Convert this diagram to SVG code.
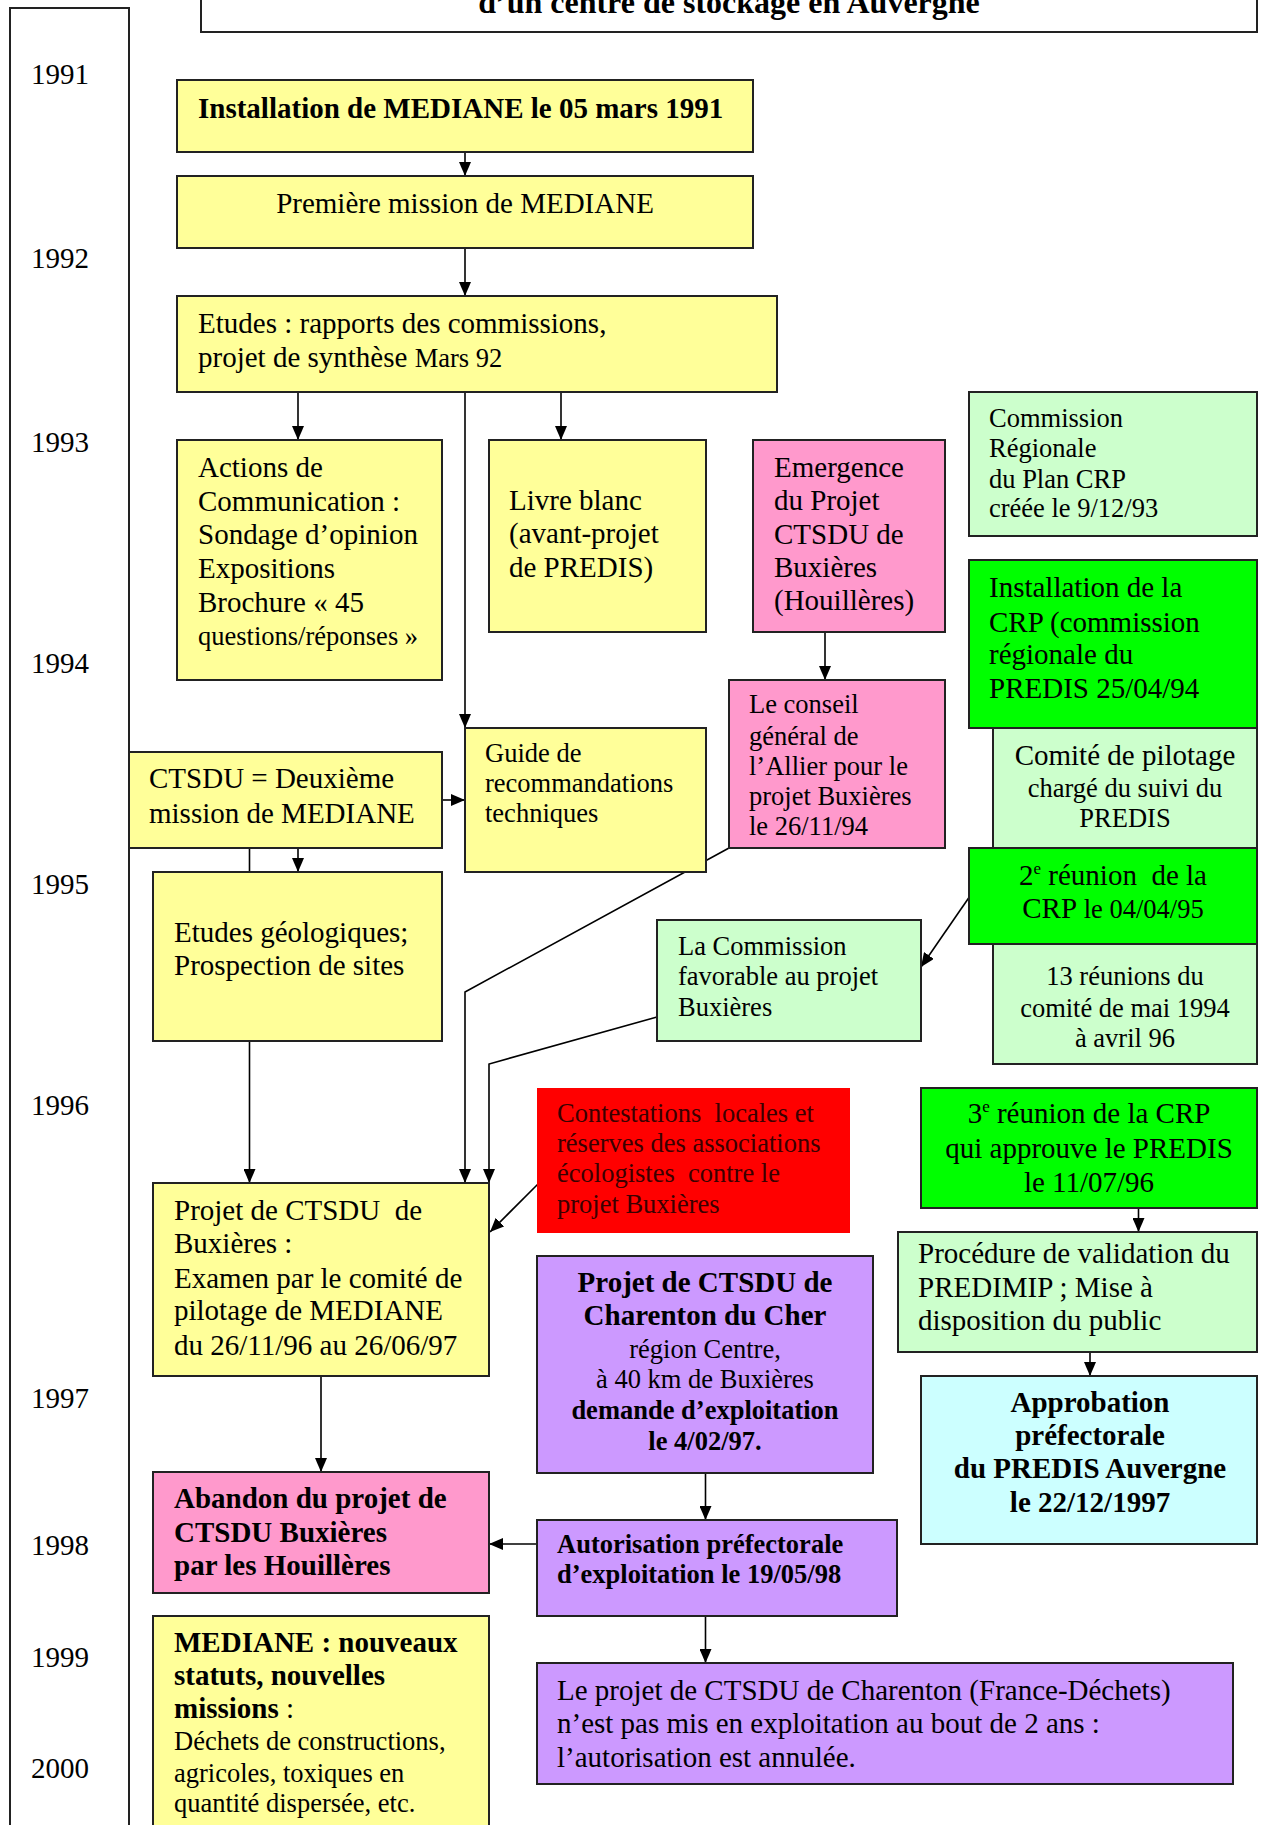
<svg xmlns="http://www.w3.org/2000/svg" width="1266" height="1825" viewBox="0 0 1266 1825">
<style>
text{font-family:"Liberation Serif","Times New Roman",serif;font-size:29px;fill:#000;white-space:pre}
.s{font-size:26.5px}
.bd{font-weight:bold}
.c{text-anchor:middle}
.yr{font-size:29px}
.b{stroke:#222;stroke-width:2}
.y{fill:#FFFF99}
.lg{fill:#CCFFCC}
.g{fill:#00FF00}
.p{fill:#FF99CC}
.r{fill:#FF0000}
.v{fill:#CC99FF}
.cy{fill:#CCFFFF}
.ln{stroke:#000;stroke-width:1.6;fill:none}
.a{marker-end:url(#ah)}
</style>
<defs>
<marker id="ah" markerUnits="userSpaceOnUse" markerWidth="14" markerHeight="12" refX="14" refY="6" orient="auto">
<path d="M0,0 L14,6 L0,12 z" fill="#000"/>
</marker>
</defs>
<rect width="1266" height="1825" fill="#fff"/>

<g id="timeline">
<rect x="10" y="8" width="119" height="1840" fill="none" stroke="#222" stroke-width="2"/>
<text class="yr" x="31" y="84">1991</text>
<text class="yr" x="31" y="268">1992</text>
<text class="yr" x="31" y="452">1993</text>
<text class="yr" x="31" y="673">1994</text>
<text class="yr" x="31" y="894">1995</text>
<text class="yr" x="31" y="1115">1996</text>
<text class="yr" x="31" y="1408">1997</text>
<text class="yr" x="31" y="1555">1998</text>
<text class="yr" x="31" y="1667">1999</text>
<text class="yr" x="31" y="1778">2000</text>
</g>

<g id="title">
<rect x="201" y="-60" width="1056" height="92" fill="#fff" class="b"/>
<text class="bd c" x="729" y="13" style="font-size:32px">d’un centre de stockage en Auvergne</text>
</g>

<g id="connectors">
<line class="ln a" x1="465" y1="152" x2="465" y2="176"/>
<line class="ln a" x1="465" y1="248" x2="465" y2="296"/>
<line class="ln a" x1="298" y1="392" x2="298" y2="440"/>
<line class="ln a" x1="561" y1="392" x2="561" y2="440"/>
<line class="ln a" x1="465" y1="392" x2="465" y2="728"/>
<line class="ln a" x1="825" y1="632" x2="825" y2="680"/>
<line class="ln a" x1="442" y1="800" x2="465" y2="800"/>
<line class="ln" x1="249.5" y1="848" x2="249.5" y2="872"/>
<line class="ln a" x1="298" y1="848" x2="298" y2="872"/>
<polyline class="ln a" points="729,848 465,992 465,1183"/>
<polyline class="ln a" points="657,1017 489,1064 489,1183"/>
<line class="ln a" x1="970" y1="896" x2="921" y2="967"/>
<line class="ln a" x1="249.5" y1="1041" x2="249.5" y2="1183"/>
<line class="ln a" x1="538" y1="1184" x2="490" y2="1232"/>
<line class="ln a" x1="1138.5" y1="1208" x2="1138.5" y2="1232"/>
<line class="ln a" x1="1090" y1="1352" x2="1090" y2="1376"/>
<line class="ln a" x1="321" y1="1376" x2="321" y2="1472"/>
<line class="ln a" x1="705.5" y1="1473" x2="705.5" y2="1520"/>
<line class="ln a" x1="537" y1="1544" x2="489" y2="1544"/>
<line class="ln a" x1="705.5" y1="1616" x2="705.5" y2="1663"/>
</g>

<g id="n-installation">
<rect x="177" y="80" width="576" height="72" class="b y"/>
<text class="bd" x="198" y="118">Installation de MEDIANE le 05 mars 1991</text>
</g>

<g id="n-premiere">
<rect x="177" y="176" width="576" height="72" class="b y"/>
<text class="c" x="465" y="213">Première mission de MEDIANE</text>
</g>

<g id="n-etudes">
<rect x="177" y="296" width="600" height="96" class="b y"/>
<text x="198" y="333">Etudes : rapports des commissions,</text>
<text x="198" y="367">projet de synthèse <tspan class="s">Mars 92</tspan></text>
</g>

<g id="n-actions">
<rect x="177" y="440" width="265" height="240" class="b y"/>
<text x="198" y="477">Actions de</text>
<text x="198" y="511">Communication :</text>
<text x="198" y="544">Sondage d’opinion</text>
<text x="198" y="578">Expositions</text>
<text x="198" y="612">Brochure « 45</text>
<text class="s" x="198" y="645">questions/réponses »</text>
</g>

<g id="n-livre">
<rect x="489" y="440" width="217" height="192" class="b y"/>
<text x="509" y="510">Livre blanc</text>
<text x="509" y="543">(avant-projet</text>
<text x="509" y="577">de PREDIS)</text>
</g>

<g id="n-emergence">
<rect x="753" y="440" width="192" height="192" class="b p"/>
<text x="774" y="477">Emergence</text>
<text x="774" y="510">du Projet</text>
<text x="774" y="544">CTSDU de</text>
<text x="774" y="577">Buxières</text>
<text x="774" y="610">(Houillères)</text>
</g>

<g id="n-commission-regionale">
<rect x="969" y="392" width="288" height="144" class="b lg"/>
<text class="s" x="989" y="427">Commission</text>
<text class="s" x="989" y="457">Régionale</text>
<text class="s" x="989" y="488">du Plan CRP</text>
<text class="s" x="989" y="517">créée le 9/12/93</text>
</g>

<g id="n-installation-crp">
<rect x="969" y="560" width="288" height="168" class="b g"/>
<text x="989" y="597">Installation de la</text>
<text x="989" y="632">CRP (commission</text>
<text x="989" y="664">régionale du</text>
<text x="989" y="698">PREDIS 25/04/94</text>
</g>

<g id="n-comite">
<rect x="993" y="728" width="264" height="120" class="b lg"/>
<text class="c" x="1125" y="765">Comité de pilotage</text>
<text class="c s" x="1125" y="797">chargé du suivi du</text>
<text class="c s" x="1125" y="827">PREDIS</text>
</g>

<g id="n-conseil">
<rect x="729" y="680" width="216" height="168" class="b p"/>
<text class="s" x="749" y="713">Le conseil</text>
<text class="s" x="749" y="745">général de</text>
<text class="s" x="749" y="775">l’Allier pour le</text>
<text class="s" x="749" y="805">projet Buxières</text>
<text class="s" x="749" y="835">le 26/11/94</text>
</g>

<g id="n-guide">
<rect x="465" y="728" width="241" height="144" class="b y"/>
<text class="s" x="485" y="762">Guide de</text>
<text class="s" x="485" y="792">recommandations</text>
<text class="s" x="485" y="822">techniques</text>
</g>

<g id="n-ctsdu">
<rect x="129" y="752" width="313" height="96" class="b y"/>
<text x="149" y="788">CTSDU = Deuxième</text>
<text x="149" y="823">mission de MEDIANE</text>
</g>

<g id="n-etudes-geo">
<rect x="153" y="872" width="289" height="169" class="b y"/>
<text x="174" y="942">Etudes géologiques;</text>
<text x="174" y="975">Prospection de sites</text>
</g>

<g id="n-commission-favorable">
<rect x="657" y="920" width="264" height="121" class="b lg"/>
<text class="s" x="678" y="955">La Commission</text>
<text class="s" x="678" y="985">favorable au projet</text>
<text class="s" x="678" y="1016">Buxières</text>
</g>

<g id="n-reunion2">
<rect x="969" y="848" width="288" height="96" class="b g"/>
<text class="c" x="1113" y="885">2<tspan style="font-size:17px" dy="-11">e</tspan><tspan dy="11"> réunion  de la</tspan></text>
<text class="c" x="1113" y="918">CRP<tspan class="s"> le 04/04/95</tspan></text>
</g>

<g id="n-reunions13">
<rect x="993" y="944" width="264" height="120" class="b lg"/>
<text class="c s" x="1125" y="985">13 réunions du</text>
<text class="c s" x="1125" y="1017">comité de mai 1994</text>
<text class="c s" x="1125" y="1047">à avril 96</text>
</g>

<g id="n-contestations">
<rect x="537" y="1088" width="313" height="145" class="r"/>
<text class="s" x="557" y="1122" style="fill:#3a0000">Contestations  locales et</text>
<text class="s" x="557" y="1152" style="fill:#3a0000">réserves des associations</text>
<text class="s" x="557" y="1182" style="fill:#3a0000">écologistes  contre le</text>
<text class="s" x="557" y="1213" style="fill:#3a0000">projet Buxières</text>
</g>

<g id="n-reunion3">
<rect x="921" y="1088" width="336" height="120" class="b g"/>
<text class="c" x="1089" y="1123">3<tspan style="font-size:17px" dy="-11">e</tspan><tspan dy="11"> réunion de la CRP</tspan></text>
<text class="c" x="1089" y="1158">qui approuve le PREDIS</text>
<text class="c" x="1089" y="1192">le 11/07/96</text>
</g>

<g id="n-projet-buxieres">
<rect x="153" y="1183" width="336" height="193" class="b y"/>
<text x="174" y="1220">Projet de CTSDU  de</text>
<text x="174" y="1253">Buxières :</text>
<text x="174" y="1288">Examen par le comité de</text>
<text x="174" y="1320">pilotage de MEDIANE</text>
<text x="174" y="1355">du 26/11/96 au 26/06/97</text>
</g>

<g id="n-charenton">
<rect x="537" y="1256" width="336" height="217" class="b v"/>
<text class="c bd" x="705" y="1292">Projet de CTSDU de</text>
<text class="c bd" x="705" y="1325">Charenton du Cher</text>
<text class="c s" x="705" y="1358">région Centre,</text>
<text class="c s" x="705" y="1388">à 40 km de Buxières</text>
<text class="c s bd" x="705" y="1419">demande d’exploitation</text>
<text class="c s bd" x="705" y="1450">le 4/02/97.</text>
</g>

<g id="n-procedure">
<rect x="898" y="1232" width="359" height="120" class="b lg"/>
<text x="918" y="1263">Procédure de validation du</text>
<text x="918" y="1297">PREDIMIP ; Mise à</text>
<text x="918" y="1330">disposition du public</text>
</g>

<g id="n-approbation">
<rect x="921" y="1376" width="336" height="168" class="b cy"/>
<text class="c bd" x="1090" y="1412">Approbation</text>
<text class="c bd" x="1090" y="1445">préfectorale</text>
<text class="c bd" x="1090" y="1478">du PREDIS Auvergne</text>
<text class="c bd" x="1090" y="1512">le 22/12/1997</text>
</g>

<g id="n-abandon">
<rect x="153" y="1472" width="336" height="121" class="b p"/>
<text class="bd" x="174" y="1508">Abandon du projet de</text>
<text class="bd" x="174" y="1542">CTSDU Buxières</text>
<text class="bd" x="174" y="1575">par les Houillères</text>
</g>

<g id="n-autorisation">
<rect x="537" y="1520" width="360" height="96" class="b v"/>
<text class="s bd" x="557" y="1553">Autorisation préfectorale</text>
<text class="s bd" x="557" y="1583">d’exploitation le 19/05/98</text>
</g>

<g id="n-mediane-statuts">
<rect x="153" y="1616" width="336" height="240" class="b y"/>
<text class="bd" x="174" y="1652">MEDIANE : nouveaux</text>
<text class="bd" x="174" y="1685">statuts, nouvelles</text>
<text x="174" y="1718"><tspan class="bd">missions</tspan> :</text>
<text class="s" x="174" y="1750">Déchets de constructions,</text>
<text class="s" x="174" y="1782">agricoles, toxiques en</text>
<text class="s" x="174" y="1812">quantité dispersée, etc.</text>
</g>

<g id="n-charenton-annule">
<rect x="537" y="1663" width="696" height="121" class="b v"/>
<text x="557" y="1700">Le projet de CTSDU de Charenton (France-Déchets)</text>
<text x="557" y="1733">n’est pas mis en exploitation au bout de 2 ans :</text>
<text x="557" y="1767">l’autorisation est annulée.</text>
</g>
</svg>
